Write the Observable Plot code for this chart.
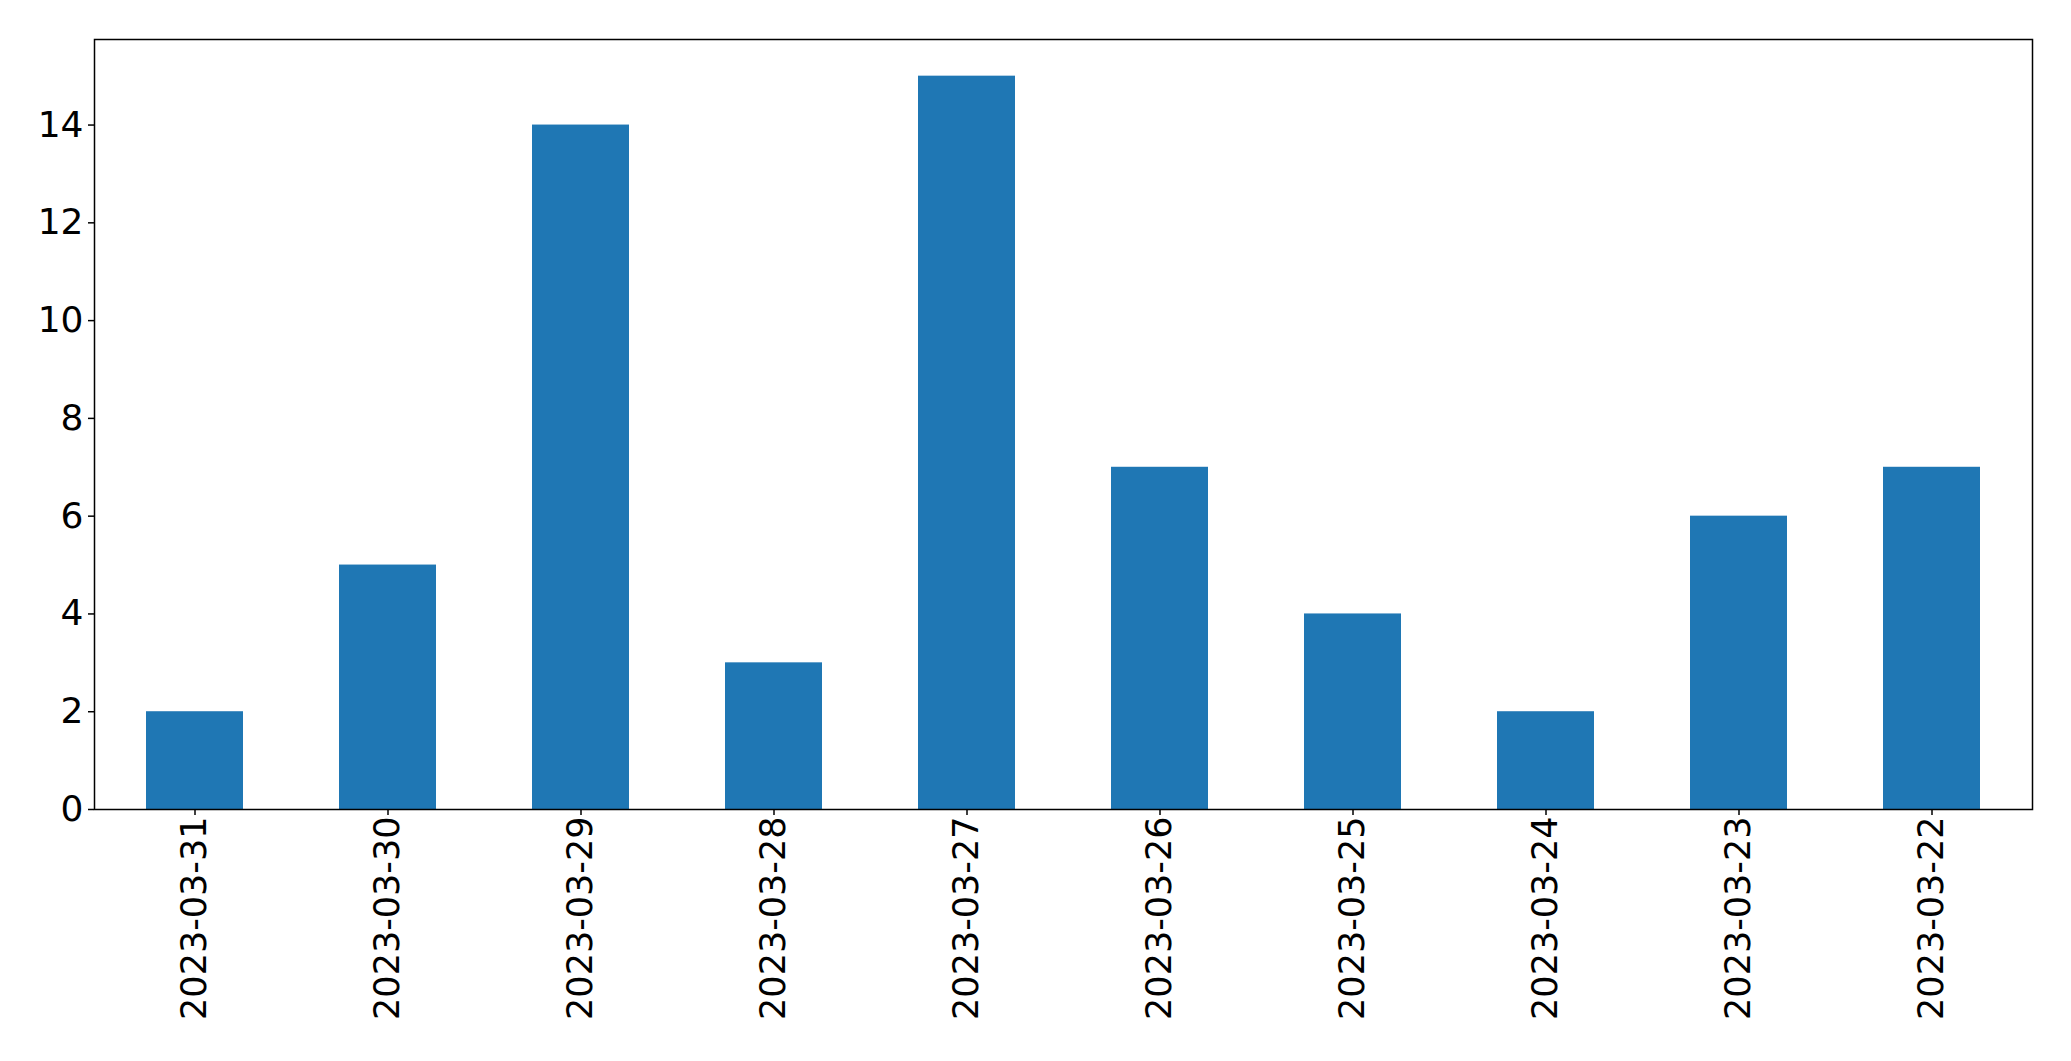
<!DOCTYPE html>
<html>
<head>
<meta charset="utf-8">
<script src="https://cdn.jsdelivr.net/npm/d3@7"></script>
<script src="https://cdn.jsdelivr.net/npm/@observablehq/plot@0.6"></script>
<style>
  html, body { margin: 0; padding: 0; background: #fff; }
  #chart svg { display: block; }
</style>
</head>
<body>
<div id="chart"></div>
<script>
const dates = ["2023-03-31","2023-03-30","2023-03-29","2023-03-28","2023-03-27","2023-03-26","2023-03-25","2023-03-24","2023-03-23","2023-03-22"];
const counts = [2, 5, 14, 3, 15, 7, 4, 2, 6, 7];
const yTicks = [0, 2, 4, 6, 8, 10, 12, 14];

const data = dates.map((d, i) => ({date: d, count: counts[i]}));

const chart = Plot.plot({
  width: 2071,
  height: 1061,
  marginLeft: 94,
  marginTop: 39,
  marginRight: 39,
  marginBottom: 252,
  style: {fontFamily: "DejaVu Sans", fontSize: "35px", color: "#000", background: "#fff"},
  x: {domain: dates, paddingInner: 0.5, paddingOuter: 0.25, label: null},
  y: {domain: [0, 15.75], label: null},
  marks: [
    Plot.barY(data, {x: "date", y: "count", fill: "#1f77b4"}),
    Plot.frame({stroke: "#000", strokeWidth: 1.5}),
    Plot.axisY({ticks: yTicks, tickSize: 6, tickPadding: 5, fontSize: 36, label: null, strokeWidth: 1.5}),
    Plot.axisX({tickRotate: -90, tickSize: 6, tickPadding: 1, fontSize: 35, label: null, strokeWidth: 1.5})
  ]
});
document.getElementById("chart").appendChild(chart);
</script>
</body>
</html>
